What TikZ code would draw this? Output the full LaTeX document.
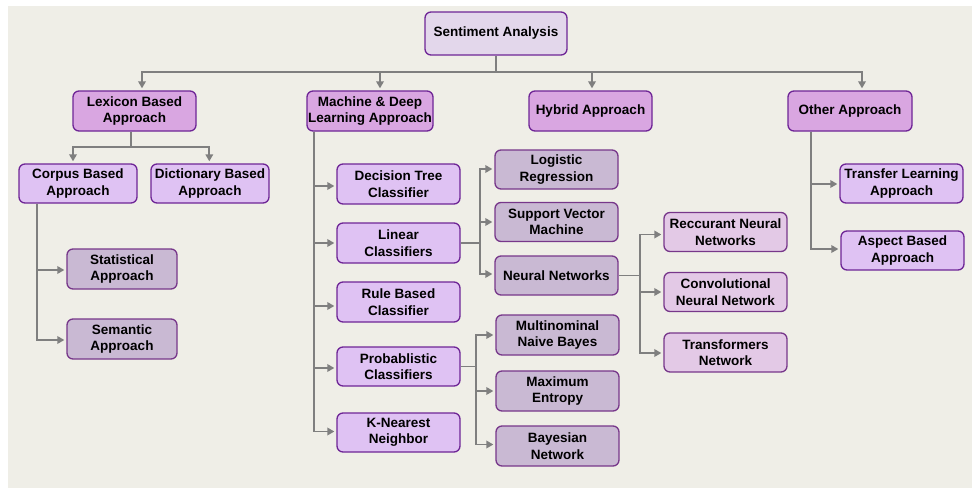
\documentclass[tikz,border=0pt]{standalone}
\usepackage{fontspec}
\setmainfont{Liberation Sans}
\usetikzlibrary{arrows.meta}

\definecolor{pagebg}{HTML}{EFEEE7}
\definecolor{edgepurple}{HTML}{6E2596}
\definecolor{edgemuted}{HTML}{77378A}
\definecolor{rootfill}{HTML}{E3D7EB}
\definecolor{mainfill}{HTML}{D9A6E1}
\definecolor{subfill}{HTML}{DFC2F3}
\definecolor{leaffill}{HTML}{C9B9D3}
\definecolor{netfill}{HTML}{E3C9E6}
\definecolor{linkgray}{HTML}{7F7F7F}

\tikzset{
  box/.style={draw=edgepurple, line width=1.3pt, rounded corners=6pt,
    align=center, inner sep=1pt, minimum width=123pt, minimum height=40pt,
    font=\bfseries\fontsize{13.5}{16.5}\selectfont, text=black},
  rootbox/.style={box, fill=rootfill, minimum width=142pt, minimum height=43pt},
  mainbox/.style={box, fill=mainfill},
  subbox/.style={box, fill=subfill},
  leafbox/.style={box, draw=edgemuted, fill=leaffill},
  netbox/.style={box, draw=edgemuted, fill=netfill},
  link/.style={draw=linkgray, line width=1.7pt},
  arr/.style={link, shorten >=2pt, -{Triangle[length=7pt,width=7.5pt]}}
}

\begin{document}
\begin{tikzpicture}[x=1pt, y=-1pt]
  \useasboundingbox (0,0) rectangle (972,488);
  \fill[white] (0,0) rectangle (972,488);
  \fill[pagebg] (8,6) rectangle (972,488);

  % top level
  \node[rootbox] (root) at (496,33.5) {Sentiment Analysis};

  % main approaches
  \node[mainbox] (lex) at (134.5,111) {Lexicon Based\\Approach};
  \node[mainbox, minimum width=126pt] (ml) at (370,111) {Machine \& Deep\\Learning Approach};
  \node[mainbox] (hyb) at (590.5,111) {Hybrid Approach};
  \node[mainbox, minimum width=124pt] (oth) at (850,111) {Other Approach};

  % lexicon branch
  \node[subbox, minimum width=118pt, minimum height=39pt] (corpus) at (78,183.5) {Corpus Based\\Approach};
  \node[subbox, minimum width=118pt, minimum height=39pt] (dict) at (210,183.5) {Dictionary Based\\Approach};
  \node[leafbox, minimum width=110pt] (stat) at (122,269) {Statistical\\Approach};
  \node[leafbox, minimum width=110pt] (sem) at (122,339) {Semantic\\Approach};

  % machine learning branch
  \node[subbox] (dt) at (398.5,184) {Decision Tree\\Classifier};
  \node[subbox] (lin) at (398.5,243) {Linear\\Classifiers};
  \node[subbox] (rule) at (398.5,302) {Rule Based\\Classifier};
  \node[subbox, minimum height=39pt] (prob) at (398.5,366.5) {Probablistic\\Classifiers};
  \node[subbox, minimum height=39pt] (knn) at (398.5,432.5) {K-Nearest\\Neighbor};

  \node[leafbox, minimum height=39pt] (logr) at (556.5,169.5) {Logistic\\Regression};
  \node[leafbox, minimum height=39pt] (svm) at (556.5,222) {Support Vector\\Machine};
  \node[leafbox, minimum height=39pt] (nn) at (556.5,275.5) {Neural Networks};

  \node[leafbox] (mnb) at (557.5,335) {Multinominal\\Naive Bayes};
  \node[leafbox] (maxent) at (557.5,391) {Maximum\\Entropy};
  \node[leafbox] (bayes) at (557.5,446) {Bayesian\\Network};

  \node[netbox, minimum height=39pt] (rnn) at (725.5,232) {Reccurant Neural\\Networks};
  \node[netbox, minimum height=39pt] (cnn) at (725.5,292) {Convolutional\\Neural Network};
  \node[netbox, minimum height=39pt] (trf) at (725.5,352.5) {Transformers\\Network};

  % other branch
  \node[subbox, minimum height=39pt] (tl) at (901.5,183.5) {Transfer Learning\\Approach};
  \node[subbox, minimum height=39pt] (asp) at (902.5,250.5) {Aspect Based\\Approach};

  % junction points of the connector buses
  \coordinate (rootbus) at (496,72);
  \coordinate (lexbus) at (131,147);
  \coordinate (linbus) at ([xshift=19pt]lin.east);
  \coordinate (probbus) at ([xshift=15pt]prob.east);
  \coordinate (nnbus) at ([xshift=21pt]nn.east);

  % root to main approaches
  \draw[link] (root.south) -- (rootbus);
  \draw[arr] (rootbus) -| ([xshift=7.5pt]lex.north);
  \draw[arr] (rootbus) -| ([xshift=10pt]ml.north);
  \draw[arr] (rootbus) -| ([xshift=1.5pt]hyb.north);
  \draw[arr] (rootbus) -| ([xshift=12pt]oth.north);

  % lexicon to corpus / dictionary
  \draw[link] ([xshift=-3.5pt]lex.south) -- (lexbus);
  \draw[arr] (lexbus) -| ([xshift=-5pt]corpus.north);
  \draw[arr] (lexbus) -| ([xshift=-0.7pt]dict.north);

  % corpus to statistical / semantic
  \draw[arr] ([xshift=-41pt]corpus.south) |- ([yshift=-1pt]stat.west);
  \draw[arr] ([xshift=-41pt]corpus.south) |- ([yshift=-1pt]sem.west);

  % machine learning trunk
  \draw[arr] ([xshift=-56pt]ml.south) |- ([yshift=-2pt]dt.west);
  \draw[arr] ([xshift=-56pt]ml.south) |- (lin.west);
  \draw[arr] ([xshift=-56pt]ml.south) |- ([yshift=-4pt]rule.west);
  \draw[arr] ([xshift=-56pt]ml.south) |- ([yshift=-1.5pt]prob.west);
  \draw[arr] ([xshift=-56pt]ml.south) |- ([yshift=1pt]knn.west);

  % linear classifiers
  \draw[link] (lin.east) -- (linbus);
  \draw[arr] (linbus) |- ([yshift=0.5pt]logr.west);
  \draw[arr] (linbus) |- (svm.west);
  \draw[arr] (linbus) |- ([yshift=1.5pt]nn.west);

  % probabilistic classifiers
  \draw[link] (prob.east) -- (probbus);
  \draw[arr] (probbus) |- (mnb.west);
  \draw[arr] (probbus) |- (maxent.west);
  \draw[arr] (probbus) |- ([yshift=1.5pt]bayes.west);

  % neural networks
  \draw[link] (nn.east) -- (nnbus);
  \draw[arr] (nnbus) |- ([yshift=-2.5pt]rnn.west);
  \draw[arr] (nnbus) |- (cnn.west);
  \draw[arr] (nnbus) |- ([yshift=-0.5pt]trf.west);

  % other approaches
  \draw[arr] ([xshift=-39pt]oth.south) |- ([yshift=-0.5pt]tl.west);
  \draw[arr] ([xshift=-39pt]oth.south) |- ([yshift=1.5pt]asp.west);
\end{tikzpicture}
\end{document}
